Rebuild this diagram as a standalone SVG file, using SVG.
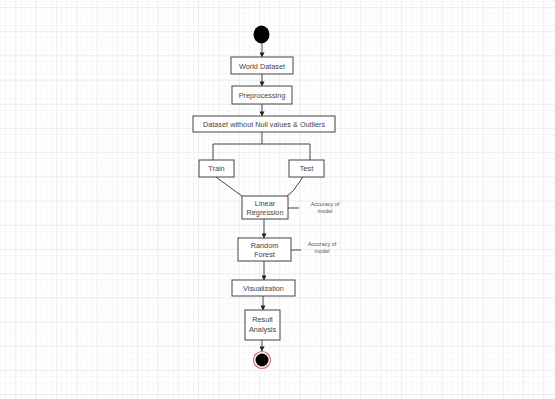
<svg xmlns="http://www.w3.org/2000/svg" width="555" height="399" viewBox="0 0 555 399">
<defs>
<pattern id="minor" x="15.4" y="7" width="5.075" height="6.05" patternUnits="userSpaceOnUse">
<path d="M0 0V6.05M0 0H5.075" fill="none" stroke="#f2f2f2" stroke-width="1"/>
</pattern>
<pattern id="major" x="15.4" y="7" width="20.3" height="24.2" patternUnits="userSpaceOnUse">
<path d="M0 0V24.2M0 0H20.3" fill="none" stroke="#e2e2e2" stroke-width="1"/>
</pattern>
<marker id="arr" viewBox="0 0 6 6" refX="5.5" refY="3" markerWidth="5" markerHeight="5" orient="auto">
<path d="M0 0L6 3L0 6z" fill="#222"/>
</marker>
</defs>
<style>
.box{fill:#fff;stroke:#444;stroke-width:1}
.t{font-family:"Liberation Sans",Arial,sans-serif;font-size:7.3px;fill:#444;text-anchor:middle}
.s{font-family:"Liberation Sans",Arial,sans-serif;font-size:5.5px;fill:#555;text-anchor:middle}
.c{fill:none;stroke:#444;stroke-width:1}
</style>
<rect width="555" height="399" fill="#fff"/>
<rect width="555" height="399" fill="url(#minor)"/>
<rect width="555" height="399" fill="url(#major)"/>
<g id="connectors">
<line class="c" x1="262" y1="43" x2="262" y2="57" marker-end="url(#arr)"/>
<line class="c" x1="262" y1="74" x2="262" y2="86" marker-end="url(#arr)"/>
<line class="c" x1="262" y1="104" x2="262" y2="116" marker-end="url(#arr)"/>
<polyline class="c" points="262,132 262,144"/>
<polyline class="c" points="213,160 213,144 310,144 310,160"/>
<polyline class="c" points="216,177 235,191 242,196"/>
<polyline class="c" points="303,177 293,191 287,196"/>
<line class="c" x1="264" y1="219" x2="264" y2="238" marker-end="url(#arr)"/>
<line class="c" x1="264" y1="261" x2="264" y2="280" marker-end="url(#arr)"/>
<line class="c" x1="263" y1="296" x2="263" y2="310" marker-end="url(#arr)"/>
<line class="c" x1="262" y1="340" x2="262" y2="351" marker-end="url(#arr)"/>
<line class="c" x1="288" y1="208" x2="299" y2="208"/>
<line class="c" x1="291" y1="250" x2="301" y2="250"/>
</g>
<g id="start"><ellipse cx="261.5" cy="34.5" rx="8" ry="9" fill="#000"/></g>
<g id="world"><rect class="box" x="231" y="57" width="62" height="17"/><text class="t" x="262" y="68.5">World Dataset</text></g>
<g id="preprocessing"><rect class="box" x="232" y="86" width="60" height="18"/><text class="t" x="262" y="97.5">Preprocessing</text></g>
<g id="dataset"><rect class="box" x="193" y="116" width="142" height="16"/><text class="t" x="264" y="126.5">Dataset without Null values &amp; Outliers</text></g>
<g id="train"><rect class="box" x="199" y="160" width="35" height="17"/><text class="t" x="216.5" y="171">Train</text></g>
<g id="test"><rect class="box" x="289" y="160" width="35" height="17"/><text class="t" x="306.5" y="171">Test</text></g>
<g id="linear"><rect class="box" x="242" y="196" width="46" height="23"/><text class="t" x="265" y="205.5">Linear</text><text class="t" x="265" y="215">Regression</text></g>
<g id="acc1"><text class="s" x="325" y="206">Accuracy of</text><text class="s" x="325" y="213">model</text></g>
<g id="random"><rect class="box" x="238" y="238" width="53" height="23"/><text class="t" x="264.5" y="247.5">Random</text><text class="t" x="264.5" y="257">Forest</text></g>
<g id="acc2"><text class="s" x="322" y="246">Accuracy of</text><text class="s" x="322" y="253">model</text></g>
<g id="visualization"><rect class="box" x="232" y="280" width="63" height="16"/><text class="t" x="263.5" y="290.5">Visualization</text></g>
<g id="result"><rect class="box" x="245" y="310" width="35" height="30"/><text class="t" x="262.5" y="322">Result</text><text class="t" x="262.5" y="331.5">Analysis</text></g>
<g id="end"><circle cx="262" cy="360" r="8.5" fill="#fff" stroke="#d46a6a" stroke-width="1.2"/><circle cx="262" cy="360" r="6.5" fill="#000"/></g>
</svg>
